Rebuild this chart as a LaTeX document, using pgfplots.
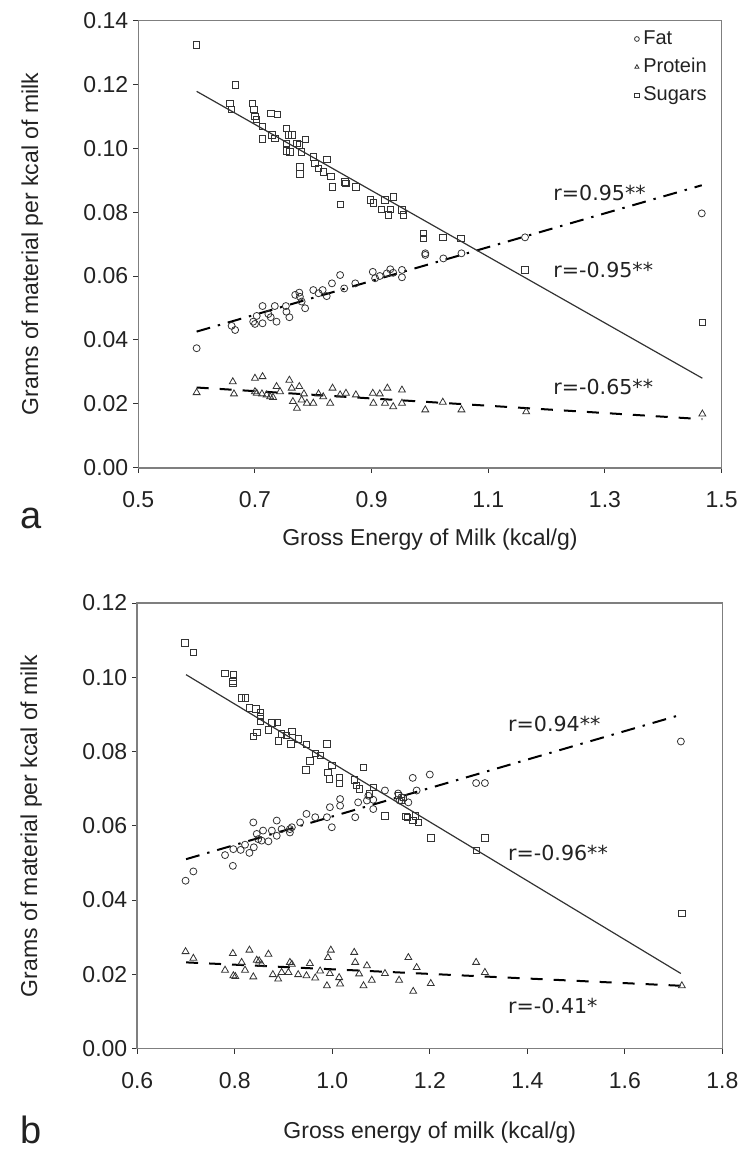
\documentclass[border=0pt]{standalone}
\usepackage{fontspec}
\setmainfont{Liberation Sans}
\newfontfamily\rfont{DejaVu Sans}
\usepackage{pgfplots}
\pgfplotsset{compat=1.18}
\definecolor{txt}{HTML}{222222}
\definecolor{frame}{HTML}{7F7F7F}
\definecolor{mk}{HTML}{333333}

\pgfplotsset{
  milk/.style={
    scale only axis, clip=false,
    axis line style={frame, line width=0.8pt},
    tick align=outside, xtick pos=left, ytick pos=left,
    major tick length=2.5pt,
    tick style={mk, line width=0.5pt},
    ymin=0, 
    /pgf/number format/assume math mode=true,
    ticklabel style={font=\fontsize{11.5}{13}\selectfont, text=txt},
    yticklabel style={xshift=1pt, /pgf/number format/fixed, /pgf/number format/fixed zerofill, /pgf/number format/precision=2},
    xticklabel style={yshift=-6pt, /pgf/number format/fixed, /pgf/number format/fixed zerofill, /pgf/number format/precision=1},
    label style={font=\fontsize{11.5}{13}\selectfont, text=txt},
    ylabel={Grams of material per kcal of milk},
    ylabel style={at={([xshift=-53pt]rel axis cs:0,0.5)}, anchor=center},
    scaled y ticks=false,
  },
  fatm/.style={only marks, mark=o, mark size=1.75pt, mark options={mk, line width=0.4pt}},
  prom/.style={only marks, mark=triangle, mark size=2pt, mark options={mk, line width=0.4pt}},
  sugm/.style={only marks, mark=square, mark size=1.6pt, mark options={mk, line width=0.4pt}},
  fatl/.style={no marks, black, line width=1pt, dash pattern=on 7pt off 4pt on 1.2pt off 4pt},
  prol/.style={no marks, black, line width=1pt, dash pattern=on 6pt off 5.5pt},
  sugl/.style={no marks, mk, line width=0.6pt},
}

\begin{document}
\begin{tikzpicture}
\useasboundingbox (0,0) rectangle (370.5pt,-574.5pt);

\begin{axis}[milk,
  at={(69.15pt,-233.85pt)}, anchor=south west,
  width=291.65pt, height=223.65pt,
  xmin=0.5, xmax=1.5, ymax=0.14,
  xtick={0.5,0.7,0.9,1.1,1.3,1.5},
  ytick={0,0.02,0.04,0.06,0.08,0.10,0.12,0.14},
  xlabel={Gross Energy of Milk (kcal/g)},
  xlabel style={at={([yshift=-36pt]rel axis cs:0.5,0)}, anchor=center},
  legend style={at={(rel axis cs:0.85,0.987)}, anchor=north west, draw=none, fill=none,
    font=\fontsize{10}{12}\selectfont, text=txt, row sep=1.5pt, inner sep=0pt},
  legend image post style={mark size=1.2pt},
  legend cell align=left,
]
\addplot[fatm] table {
0.600 0.0374
0.660 0.0444
0.666 0.0431
0.697 0.0457
0.700 0.0450
0.703 0.0475
0.713 0.0506
0.713 0.0452
0.723 0.0481
0.727 0.0471
0.734 0.0506
0.737 0.0457
0.753 0.0506
0.754 0.0488
0.759 0.0471
0.769 0.0541
0.776 0.0548
0.780 0.0520
0.786 0.0499
0.777 0.0535
0.800 0.0556
0.809 0.0546
0.816 0.0556
0.823 0.0537
0.832 0.0577
0.846 0.0603
0.853 0.0561
0.872 0.0577
0.902 0.0613
0.906 0.0593
0.914 0.0600
0.926 0.0608
0.932 0.0621
0.937 0.0610
0.952 0.0619
0.952 0.0596
0.992 0.0671
0.992 0.0666
1.023 0.0655
1.054 0.0671
1.163 0.0721
1.466 0.0796
};
\addlegendentry{Fat}
\addplot[prom] table {
0.600 0.0235
0.662 0.0269
0.664 0.0231
0.700 0.0280
0.713 0.0285
0.700 0.0238
0.703 0.0233
0.712 0.0231
0.720 0.0228
0.726 0.0222
0.731 0.0220
0.737 0.0254
0.743 0.0238
0.759 0.0274
0.763 0.0249
0.765 0.0207
0.772 0.0186
0.776 0.0254
0.780 0.0212
0.784 0.0231
0.789 0.0202
0.800 0.0202
0.809 0.0231
0.817 0.0222
0.829 0.0202
0.833 0.0249
0.846 0.0228
0.856 0.0233
0.873 0.0228
0.902 0.0233
0.903 0.0202
0.914 0.0231
0.927 0.0249
0.923 0.0202
0.937 0.0191
0.952 0.0243
0.952 0.0202
0.992 0.0181
1.022 0.0205
1.054 0.0181
1.165 0.0175
1.467 0.0168
};
\addlegendentry{Protein}
\addplot[sugm] table {
0.600 0.1323
0.666 0.1198
0.657 0.1141
0.660 0.1122
0.696 0.1141
0.698 0.1122
0.700 0.1099
0.702 0.1091
0.713 0.1069
0.713 0.1029
0.727 0.1109
0.738 0.1106
0.729 0.1041
0.734 0.1031
0.754 0.1062
0.757 0.1041
0.763 0.1041
0.754 0.1015
0.754 0.0992
0.760 0.0989
0.772 0.1015
0.776 0.1010
0.786 0.1028
0.780 0.0989
0.777 0.0942
0.777 0.0919
0.800 0.0973
0.803 0.0953
0.809 0.0937
0.817 0.0926
0.823 0.0965
0.830 0.0911
0.833 0.0879
0.846 0.0825
0.854 0.0895
0.856 0.0890
0.873 0.0879
0.898 0.0838
0.903 0.0829
0.917 0.0809
0.923 0.0838
0.929 0.0791
0.937 0.0848
0.932 0.0809
0.952 0.0807
0.954 0.0791
0.989 0.0734
0.989 0.0718
1.022 0.0721
1.053 0.0718
1.163 0.0619
1.467 0.0454
};
\addlegendentry{Sugars}
\addplot[fatl, forget plot] coordinates {(0.600,0.0426) (1.466,0.0884)};
\addplot[prol, forget plot] coordinates {(0.600,0.0251) (1.467,0.0152)};
\addplot[sugl, forget plot] coordinates {(0.600,0.1178) (1.467,0.0280)};
\node[anchor=west, font=\rfont\fontsize{10.3}{12}\selectfont, text=txt, inner sep=0pt] at (axis cs:1.211,0.0859) {r=0.95**};
\node[anchor=west, font=\rfont\fontsize{10.3}{12}\selectfont, text=txt, inner sep=0pt] at (axis cs:1.211,0.0619) {r=-0.95**};
\node[anchor=west, font=\rfont\fontsize{10.3}{12}\selectfont, text=txt, inner sep=0pt] at (axis cs:1.211,0.0254) {r=-0.65**};
\end{axis}

\begin{axis}[milk,
  at={(68.65pt,-524.25pt)}, anchor=south west,
  width=292.5pt, height=222.75pt,
  xmin=0.6, xmax=1.8, ymax=0.12,
  xtick={0.6,0.8,1.0,1.2,1.4,1.6,1.8},
  ytick={0,0.02,0.04,0.06,0.08,0.10,0.12},
  xlabel={Gross energy of milk (kcal/g)},
  xlabel style={at={([yshift=-42.25pt]rel axis cs:0.5,0)}, anchor=center},
]
\addplot[fatm] table {
0.699 0.0452
0.715 0.0477
0.780 0.0521
0.796 0.0492
0.797 0.0537
0.812 0.0535
0.821 0.0549
0.830 0.0527
0.839 0.0542
0.845 0.0578
0.848 0.0564
0.855 0.0560
0.869 0.0558
0.876 0.0587
0.886 0.0573
0.896 0.0591
0.913 0.0582
0.917 0.0596
0.838 0.0609
0.886 0.0614
0.858 0.0587
0.913 0.0591
0.934 0.0609
0.947 0.0632
0.965 0.0623
0.989 0.0623
0.995 0.0650
0.999 0.0596
1.016 0.0672
1.016 0.0654
1.047 0.0623
1.053 0.0663
1.071 0.0668
1.074 0.0681
1.084 0.0670
1.084 0.0645
1.108 0.0695
1.135 0.0687
1.142 0.0677
1.138 0.0668
1.156 0.0663
1.165 0.0729
1.173 0.0695
1.200 0.0738
1.295 0.0715
1.313 0.0715
1.715 0.0827
};
\addplot[prom] table {
0.699 0.0261
0.715 0.0243
0.780 0.0211
0.796 0.0256
0.797 0.0196
0.801 0.0194
0.814 0.0232
0.821 0.0211
0.830 0.0265
0.838 0.0193
0.845 0.0238
0.850 0.0236
0.855 0.0227
0.869 0.0254
0.878 0.0199
0.889 0.0187
0.896 0.0205
0.910 0.0205
0.913 0.0232
0.917 0.0227
0.930 0.0199
0.947 0.0196
0.954 0.0229
0.965 0.0190
0.975 0.0209
0.989 0.0169
0.991 0.0245
0.997 0.0265
0.995 0.0202
1.014 0.0191
1.016 0.0174
1.045 0.0259
1.047 0.0232
1.055 0.0201
1.064 0.0169
1.071 0.0223
1.081 0.0184
1.108 0.0202
1.137 0.0184
1.156 0.0245
1.166 0.0154
1.173 0.0218
1.202 0.0175
1.295 0.0232
1.313 0.0205
1.717 0.0169
};
\addplot[sugm] table {
0.698 0.1093
0.715 0.1067
0.780 0.1011
0.797 0.1007
0.796 0.0989
0.796 0.0984
0.814 0.0944
0.822 0.0944
0.830 0.0918
0.843 0.0915
0.852 0.0906
0.852 0.0894
0.852 0.0881
0.838 0.0840
0.845 0.0852
0.869 0.0858
0.876 0.0877
0.887 0.0879
0.889 0.0829
0.896 0.0847
0.906 0.0843
0.917 0.0854
0.915 0.0820
0.930 0.0834
0.947 0.0819
0.946 0.0750
0.954 0.0775
0.965 0.0795
0.975 0.0789
0.989 0.0820
0.991 0.0744
0.994 0.0726
0.999 0.0762
1.014 0.0730
1.014 0.0714
1.045 0.0723
1.050 0.0708
1.055 0.0699
1.064 0.0757
1.076 0.0686
1.084 0.0703
1.108 0.0627
1.135 0.0681
1.142 0.0668
1.146 0.0677
1.151 0.0625
1.154 0.0623
1.165 0.0614
1.171 0.0627
1.176 0.0609
1.202 0.0567
1.295 0.0533
1.313 0.0567
1.717 0.0364
};
\addplot[fatl] coordinates {(0.700,0.0510) (1.715,0.0899)};
\addplot[prol] coordinates {(0.700,0.0232) (1.715,0.0169)};
\addplot[sugl] coordinates {(0.700,0.1007) (1.715,0.0202)};
\node[anchor=west, font=\rfont\fontsize{10.3}{12}\selectfont, text=txt, inner sep=0pt] at (axis cs:1.360,0.0875) {r=0.94**};
\node[anchor=west, font=\rfont\fontsize{10.3}{12}\selectfont, text=txt, inner sep=0pt] at (axis cs:1.360,0.0527) {r=-0.96**};
\node[anchor=west, font=\rfont\fontsize{10.3}{12}\selectfont, text=txt, inner sep=0pt] at (axis cs:1.360,0.0115) {r=-0.41*};
\end{axis}

\node[anchor=base west, font=\fontsize{19}{22}\selectfont, text=txt, inner sep=0pt] at (10pt,-264pt) {a};
\node[anchor=base west, font=\fontsize{19}{22}\selectfont, text=txt, inner sep=0pt] at (10pt,-571.5pt) {b};
\end{tikzpicture}
\end{document}
